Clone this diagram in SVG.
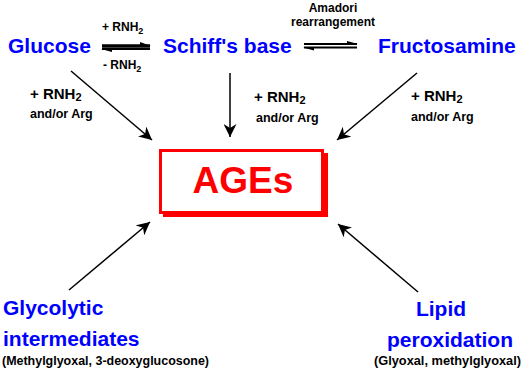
<svg xmlns="http://www.w3.org/2000/svg" width="527" height="368" viewBox="0 0 527 368">
<style>
.n{font-family:"Liberation Sans",Arial,sans-serif;font-weight:bold;fill:#0000ff;font-size:21px}
.l{font-family:"Liberation Sans",Arial,sans-serif;font-weight:bold;fill:#000;}
.s{font-size:12px}
.m{font-size:15px}
.a{font-size:12.5px}
.c{stroke:#000;stroke-width:1.5;fill:none}
</style>
<defs>
<marker id="ah2" viewBox="0 0 10 10" refX="10" refY="5" markerWidth="13" markerHeight="13" orient="auto" markerUnits="userSpaceOnUse">
<path d="M0,0 L10,5 L0,10 L3,5 Z" fill="#000"/>
</marker>
</defs>
<rect width="527" height="368" fill="#fff"/>
<g id="connectors">
<path d="M102,46 L150,46" stroke="#000" stroke-width="3.5"/>
<path d="M140,42 L151,46 L140,46 Z" fill="#000"/>
<path d="M102,49 L150,49" stroke="#000" stroke-width="2"/>
<path d="M112,52 L101,49 L112,49 Z" fill="#000"/>
<path d="M304,44 L357,44" stroke="#000" stroke-width="2"/>
<path d="M347,41 L358,44 L347,44 Z" fill="#000"/>
<path d="M304,47.5 L357,47.5" stroke="#000" stroke-width="2"/>
<path d="M314,50.5 L303,47.5 L314,47.5 Z" fill="#000"/>
<path class="c" d="M71,71 L152,140" marker-end="url(#ah2)"/>
<path class="c" d="M230,73 L230,137" marker-end="url(#ah2)" stroke-width="2"/>
<path class="c" d="M417,73 L337,140" marker-end="url(#ah2)"/>
<path class="c" d="M69,290 L150,222" marker-end="url(#ah2)"/>
<path class="c" d="M418,292 L338,224" marker-end="url(#ah2)"/>
<text class="l s" x="102" y="31">+ RNH<tspan font-size="9" dy="3">2</tspan></text>
<text class="l s" x="103" y="69">- RNH<tspan font-size="9" dy="3">2</tspan></text>
<text class="l s" x="333" y="12" text-anchor="middle">Amadori</text>
<text class="l s" x="333" y="26" text-anchor="middle">rearrangement</text>
<text class="l m" x="30" y="99">+ RNH<tspan font-size="11" dy="2">2</tspan></text>
<text class="l a" x="30" y="118">and/or Arg</text>
<text class="l m" x="254" y="102">+ RNH<tspan font-size="11" dy="2">2</tspan></text>
<text class="l a" x="256" y="122">and/or Arg</text>
<text class="l m" x="411" y="101">+ RNH<tspan font-size="11" dy="2">2</tspan></text>
<text class="l a" x="411" y="121">and/or Arg</text>
</g>
<g id="glucose"><text class="n" x="8" y="53">Glucose</text></g>
<g id="schiff"><text class="n" x="163" y="53">Schiff's base</text></g>
<g id="fructosamine"><text class="n" x="378" y="53">Fructosamine</text></g>
<g id="ages">
<rect x="163" y="153" width="165" height="64" fill="#ff0000"/>
<rect x="160.5" y="150.5" width="162" height="62" fill="#fff" stroke="#ff0000" stroke-width="3"/>
<text x="243" y="193" text-anchor="middle" font-family="Liberation Sans,Arial,sans-serif" font-weight="bold" font-size="37" fill="#ff0000">AGEs</text>
</g>
<g id="glycolytic">
<text class="n" x="3" y="315">Glycolytic</text>
<text class="n" x="3" y="346">intermediates</text>
<text class="l" x="2" y="365" font-size="12" textLength="207" lengthAdjust="spacingAndGlyphs">(Methylglyoxal, 3-deoxyglucosone)</text>
</g>
<g id="lipid">
<text class="n" x="441" y="316" text-anchor="middle">Lipid</text>
<text class="n" x="450" y="347" text-anchor="middle">peroxidation</text>
<text class="l" x="374" y="365" font-size="12" textLength="147" lengthAdjust="spacingAndGlyphs">(Glyoxal, methylglyoxal)</text>
</g>
</svg>
